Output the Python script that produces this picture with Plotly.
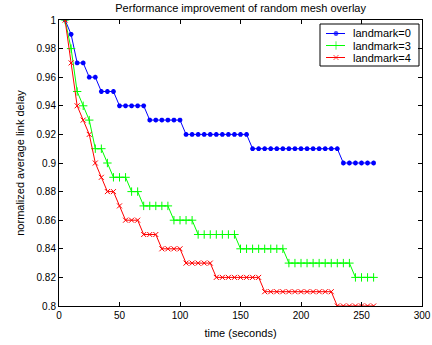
import plotly.graph_objects as go

t0 = list(range(5, 261, 5))

# step levels: (start time, value)
lm0_levels = [(5, 1.00), (10, 0.99), (15, 0.97), (25, 0.96), (35, 0.95), (50, 0.94),
              (75, 0.93), (105, 0.92), (160, 0.91), (235, 0.90)]
lm3_levels = [(5, 1.00), (10, 0.98), (15, 0.95), (20, 0.94), (25, 0.93), (30, 0.91),
              (40, 0.90), (45, 0.89), (60, 0.88), (70, 0.87), (95, 0.86), (115, 0.85),
              (150, 0.84), (190, 0.83), (245, 0.82)]
lm4_levels = [(5, 1.00), (10, 0.97), (15, 0.94), (20, 0.93), (25, 0.92), (30, 0.90),
              (35, 0.89), (40, 0.88), (50, 0.87), (55, 0.86), (70, 0.85), (85, 0.84),
              (105, 0.83), (130, 0.82), (170, 0.81), (230, 0.80)]

series_names = ["landmark=0", "landmark=3", "landmark=4"]
x_ticks = [0, 50, 100, 150, 200, 250, 300]
y_ticks = [0.8, 0.82, 0.84, 0.86, 0.88, 0.9, 0.92, 0.94, 0.96, 0.98, 1]
y_tick_text = ["0.8", "0.82", "0.84", "0.86", "0.88", "0.9", "0.92", "0.94", "0.96", "0.98", "1"]


def expand(levels):
    out = []
    for t in t0:
        v = None
        for (s, val) in levels:
            if t >= s:
                v = val
        out.append(v)
    return out


series_values = [expand(lm0_levels), expand(lm3_levels), expand(lm4_levels)]

styles = [
    dict(color="#0000ff", symbol="asterisk-open", size=4, lw=1.5),
    dict(color="#00ff00", symbol="cross-thin-open", size=6, lw=1),
    dict(color="#ff0000", symbol="x-thin-open", size=5, lw=1),
]

W, H = 432, 345
ML, MR, MT, MB = 59, 10, 20, 39
PW, PH = W - ML - MR, H - MT - MB


def px_x(p):
    return (p - ML) / PW


def px_y(p):
    return 1 - (p - MT) / PH


fig = go.Figure()
for name, vals, st in zip(series_names, series_values, styles):
    fig.add_trace(go.Scatter(x=t0, y=vals, name=name, mode="lines+markers",
                             line=dict(color=st["color"], width=1),
                             marker=dict(symbol=st["symbol"], size=st["size"], color=st["color"],
                                         line=dict(color=st["color"], width=st["lw"])),
                             showlegend=False))

# Custom compact legend (box, sample line+marker, label)
shapes = [dict(type="rect", xref="paper", yref="paper",
               x0=px_x(320), x1=px_x(419), y0=px_y(66), y1=px_y(24),
               line=dict(color="black", width=1), fillcolor="white", layer="below")]
annotations = []
row_y = [33.5, 45.5, 57.5]
for i, (name, st) in enumerate(zip(series_names, styles)):
    yy = px_y(row_y[i])
    fig.add_trace(go.Scatter(x=[px_x(326), px_x(336), px_x(345)], y=[yy, yy, yy],
                             xaxis="x2", yaxis="y2", mode="lines+markers", hoverinfo="skip",
                             line=dict(color=st["color"], width=1),
                             marker=dict(symbol=st["symbol"], size=[0, st["size"], 0],
                                         color=st["color"],
                                         line=dict(color=st["color"], width=st["lw"])),
                             showlegend=False))
    annotations.append(dict(x=px_x(351), y=yy, xref="paper", yref="paper", text=name,
                            showarrow=False, xanchor="left", yanchor="middle",
                            font=dict(size=11, color="black")))

axis_common = dict(showline=True, linecolor="black", linewidth=1, mirror="ticks",
                   ticks="inside", ticklen=4, tickcolor="black", showgrid=False,
                   zeroline=False, automargin=False, tickfont=dict(size=10, color="black"))

fig.update_layout(
    width=W, height=H,
    margin=dict(l=ML, r=MR, t=MT, b=MB),
    paper_bgcolor="white", plot_bgcolor="white",
    font=dict(family="Liberation Sans, Arial, sans-serif", size=11, color="black"),
    title=dict(text="Performance improvement of random mesh overlay", x=0.557, xanchor="center",
               y=0.977, yanchor="middle", font=dict(size=11)),
    xaxis=dict(range=[0, 300], tickvals=x_ticks,
               title=dict(text="time (seconds)", standoff=9, font=dict(size=11)), **axis_common),
    yaxis=dict(range=[0.8, 1.0], tickvals=y_ticks, ticktext=y_tick_text,
               title=dict(text="normalized average link delay", standoff=9, font=dict(size=11)),
               **axis_common),
    xaxis2=dict(overlaying="x", range=[0, 1], visible=False, automargin=False),
    yaxis2=dict(overlaying="y", range=[0, 1], visible=False, automargin=False),
    shapes=shapes,
    annotations=annotations,
    showlegend=False,
)

fig.write_html("out.html", config={"displayModeBar": False},
               post_script="document.body.style.margin='0';document.body.style.padding='0';")
